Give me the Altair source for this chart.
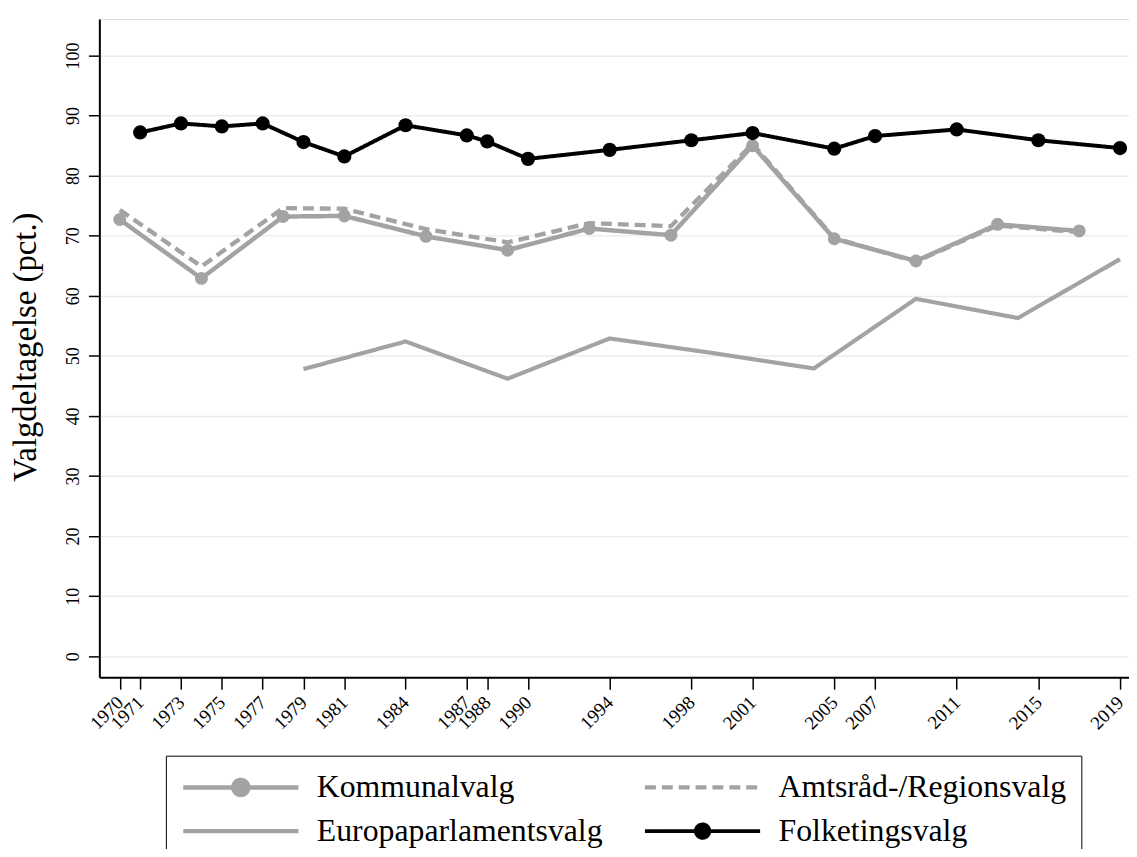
import altair as alt
import pandas as pd

GRAY = "#a3a3a3"
BLACK = "#000000"
FONT = "Liberation Serif"

series_names = ["Kommunalvalg", "Amtsråd-/Regionsvalg", "Europaparlamentsvalg", "Folketingsvalg"]

kom_years = [1970, 1974, 1978, 1981, 1985, 1989, 1993, 1997, 2001, 2005, 2009, 2013, 2017]
kom_vals = [72.7, 62.9, 73.2, 73.3, 69.9, 67.6, 71.2, 70.1, 85.0, 69.5, 65.8, 71.9, 70.8]

amt_years = [1970, 1974, 1978, 1981, 1985, 1989, 1993, 1997, 2001, 2005, 2009, 2013, 2017]
amt_vals = [74.3, 64.9, 74.6, 74.5, 71.1, 68.9, 72.1, 71.6, 85.3, 69.6, 65.7, 71.7, 70.6]

eu_years = [1979, 1984, 1989, 1994, 1999, 2004, 2009, 2014, 2019]
eu_vals = [47.8, 52.4, 46.2, 52.9, 50.5, 47.9, 59.5, 56.3, 66.1]

folk_years = [1971, 1973, 1975, 1977, 1979, 1981, 1984, 1987, 1988, 1990,
              1994, 1998, 2001, 2005, 2007, 2011, 2015, 2019]
folk_vals = [87.2, 88.7, 88.2, 88.7, 85.6, 83.2, 88.4, 86.7, 85.7, 82.8,
             84.3, 85.9, 87.1, 84.5, 86.6, 87.7, 85.9, 84.6]

x_ticks = [1970, 1971, 1973, 1975, 1977, 1979, 1981, 1984, 1987, 1988, 1990,
           1994, 1998, 2001, 2005, 2007, 2011, 2015, 2019]
y_ticks = [0, 10, 20, 30, 40, 50, 60, 70, 80, 90, 100]

rows = []
for name, yrs, vals in [
    ("Europaparlamentsvalg", eu_years, eu_vals),
    ("Amtsråd-/Regionsvalg", amt_years, amt_vals),
    ("Kommunalvalg", kom_years, kom_vals),
    ("Folketingsvalg", folk_years, folk_vals),
]:
    for yr, v in zip(yrs, vals):
        rows.append({"aar": yr, "pct": v, "valg": name})
df = pd.DataFrame(rows)

W, H = 1037, 663

x_scale = alt.Scale(domain=[1969.0, 2019.44], nice=False, zero=False)
y_scale = alt.Scale(domain=[-3.5, 106.1], nice=False, zero=False)
color_scale = alt.Scale(domain=series_names, range=[GRAY, GRAY, GRAY, BLACK])

PATH_DOT = "M-1,0H1M0.13,0A0.13,0.13,0,1,1,-0.13,0A0.13,0.13,0,1,1,0.13,0Z"
PATH_DOT_B = "M-1,0H1M0.115,0A0.115,0.115,0,1,1,-0.115,0A0.115,0.115,0,1,1,0.115,0Z"
PATH_LINE = "M-1,0H1"

shape_expr = (
    f"datum.value === 'Kommunalvalg' ? '{PATH_DOT}' : "
    f"(datum.value === 'Folketingsvalg' ? '{PATH_DOT_B}' : '{PATH_LINE}')"
)
fill_expr = f"datum.value === 'Folketingsvalg' ? '{BLACK}' : '{GRAY}'"
sw_expr = "datum.value === 'Folketingsvalg' ? 2.5 : (datum.value === 'Europaparlamentsvalg' ? 4 : 4.5)"
dash_expr = "datum.value === 'Amtsråd-/Regionsvalg' ? [11, 6] : [1, 0]"

legend = alt.Legend(
    title=None,
    orient="none",
    direction="horizontal",
    legendX=67,
    legendY=742,
    columns=2,
    clipHeight=34,
    symbolSize=13456,
    symbolType=alt.ExprRef(shape_expr),
    symbolFillColor=alt.ExprRef(fill_expr),
    symbolStrokeColor=alt.ExprRef(fill_expr),
    symbolStrokeWidth=alt.ExprRef(sw_expr),
    symbolDash=alt.ExprRef(dash_expr),
    symbolOpacity=1,
    labelFont=FONT,
    labelFontSize=32,
    labelColor="black",
    labelOffset=16,
    labelLimit=600,
    padding=15,
    rowPadding=10,
    columnPadding=40,
    strokeColor="black",
    fillColor="white",
)

x_enc = alt.X(
    "aar:Q",
    scale=x_scale,
    axis=alt.Axis(
        values=x_ticks,
        format="d",
        title=None,
        grid=False,
        labelAngle=315,
        labelAlign="right",
        labelBaseline="middle",
        labelFont=FONT,
        labelFontSize=19,
        labelColor="black",
        labelOverlap=False,
        labelFlush=False,
        labelPadding=10,
        tickColor="black",
        tickSize=12,
        tickWidth=1.5,
        domainColor="black",
        domainWidth=2,
    ),
)

y_enc = alt.Y(
    "pct:Q",
    scale=y_scale,
    axis=alt.Axis(
        values=y_ticks,
        title="Valgdeltagelse (pct.)",
        titleFont=FONT,
        titleFontSize=33,
        titleFontWeight="normal",
        titleColor="black",
        titleAngle=270,
        titleAlign="center",
        titleBaseline="middle",
        titleX=-74,
        titleY=330,
        grid=True,
        gridColor="#ebebeb",
        gridWidth=1.5,
        labelAngle=270,
        labelAlign="center",
        labelBaseline="bottom",
        labelFont=FONT,
        labelFontSize=18,
        labelColor="black",
        labelPadding=6,
        tickColor="black",
        tickSize=11,
        tickWidth=1.5,
        domainColor="black",
        domainWidth=2,
    ),
)

color_enc = alt.Color("valg:N", scale=color_scale, legend=legend)

lines = alt.Chart(df).mark_line().encode(
    x=x_enc,
    y=y_enc,
    color=color_enc,
    strokeDash=alt.StrokeDash(
        "valg:N",
        scale=alt.Scale(domain=series_names, range=[[1, 0], [11, 6], [1, 0], [1, 0]]),
        legend=None,
    ),
    strokeWidth=alt.StrokeWidth(
        "valg:N",
        scale=alt.Scale(domain=series_names, range=[4.5, 4, 3.5, 2.3]),
        legend=None,
    ),
)

points = alt.Chart(df).transform_filter(
    alt.FieldOneOfPredicate(field="valg", oneOf=["Kommunalvalg", "Folketingsvalg"])
).mark_point(filled=True, shape="circle", opacity=1, strokeWidth=0).encode(
    x=x_enc,
    y=y_enc,
    color=color_enc,
    size=alt.Size(
        "valg:N",
        scale=alt.Scale(domain=["Kommunalvalg", "Folketingsvalg"], range=[170, 205]),
        legend=None,
    ),
)

chart = alt.layer(lines, points).properties(
    width=W,
    height=H,
    autosize=alt.AutoSizeParams(type="none"),
    padding={"left": 92, "top": 8, "right": 0, "bottom": 170},
).configure_view(stroke=None).configure(background="white")

chart.save("out.html", embed_options={"renderer": "svg", "actions": False})
